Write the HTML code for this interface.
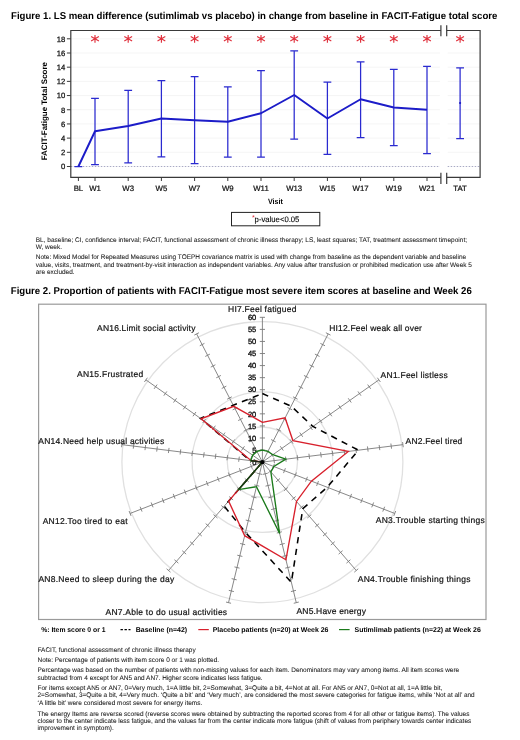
<!DOCTYPE html>
<html><head><meta charset="utf-8"><title>FACIT-Fatigue figures</title>
<style>
html,body{margin:0;padding:0;background:#fff;}
body{width:520px;height:740px;overflow:hidden;position:relative;font-family:"Liberation Sans", sans-serif;}
svg{position:absolute;left:0;top:0;will-change:transform;}
svg text{font-family:"Liberation Sans", sans-serif;text-rendering:geometricPrecision;}
</style></head><body>
<svg width="520" height="740" viewBox="0 0 520 740">

<text x="11.00" y="19.00" font-size="9.95" font-weight="bold" text-anchor="start" fill="#000" textLength="486.40" lengthAdjust="spacingAndGlyphs">Figure 1. LS mean difference (sutimlimab vs placebo) in change from baseline in FACIT-Fatigue total score</text>
<line x1="70.8" y1="152.31" x2="439.9" y2="152.31" stroke="#f3f3f3" stroke-width="0.8"/>
<line x1="447.7" y1="152.31" x2="480.1" y2="152.31" stroke="#f3f3f3" stroke-width="0.8"/>
<line x1="70.8" y1="138.12" x2="439.9" y2="138.12" stroke="#f3f3f3" stroke-width="0.8"/>
<line x1="447.7" y1="138.12" x2="480.1" y2="138.12" stroke="#f3f3f3" stroke-width="0.8"/>
<line x1="70.8" y1="123.94" x2="439.9" y2="123.94" stroke="#f3f3f3" stroke-width="0.8"/>
<line x1="447.7" y1="123.94" x2="480.1" y2="123.94" stroke="#f3f3f3" stroke-width="0.8"/>
<line x1="70.8" y1="109.75" x2="439.9" y2="109.75" stroke="#f3f3f3" stroke-width="0.8"/>
<line x1="447.7" y1="109.75" x2="480.1" y2="109.75" stroke="#f3f3f3" stroke-width="0.8"/>
<line x1="70.8" y1="95.56" x2="439.9" y2="95.56" stroke="#f3f3f3" stroke-width="0.8"/>
<line x1="447.7" y1="95.56" x2="480.1" y2="95.56" stroke="#f3f3f3" stroke-width="0.8"/>
<line x1="70.8" y1="81.37" x2="439.9" y2="81.37" stroke="#f3f3f3" stroke-width="0.8"/>
<line x1="447.7" y1="81.37" x2="480.1" y2="81.37" stroke="#f3f3f3" stroke-width="0.8"/>
<line x1="70.8" y1="67.18" x2="439.9" y2="67.18" stroke="#f3f3f3" stroke-width="0.8"/>
<line x1="447.7" y1="67.18" x2="480.1" y2="67.18" stroke="#f3f3f3" stroke-width="0.8"/>
<line x1="70.8" y1="53.00" x2="439.9" y2="53.00" stroke="#f3f3f3" stroke-width="0.8"/>
<line x1="447.7" y1="53.00" x2="480.1" y2="53.00" stroke="#f3f3f3" stroke-width="0.8"/>
<line x1="70.8" y1="38.81" x2="439.9" y2="38.81" stroke="#f3f3f3" stroke-width="0.8"/>
<line x1="447.7" y1="38.81" x2="480.1" y2="38.81" stroke="#f3f3f3" stroke-width="0.8"/>
<line x1="70.8" y1="166.50" x2="439.9" y2="166.50" stroke="#a9aac4" stroke-width="1" stroke-dasharray="1.5 1.5"/>
<line x1="447.7" y1="166.50" x2="480.1" y2="166.50" stroke="#a9aac4" stroke-width="1" stroke-dasharray="1.5 1.5"/>
<path d="M440.9,30.5 H70.8 V177.3 H440.9 M446.7,30.5 H480.1 V177.3 H446.7" fill="none" stroke="#3a3a3a" stroke-width="1.2"/>
<line x1="440.9" y1="25.2" x2="440.9" y2="36.2" stroke="#3a3a3a" stroke-width="1.2"/>
<line x1="440.9" y1="172.8" x2="440.9" y2="184.0" stroke="#3a3a3a" stroke-width="1.2"/>
<line x1="446.7" y1="25.2" x2="446.7" y2="36.2" stroke="#3a3a3a" stroke-width="1.2"/>
<line x1="446.7" y1="172.8" x2="446.7" y2="184.0" stroke="#3a3a3a" stroke-width="1.2"/>
<line x1="66.9" y1="166.50" x2="70.8" y2="166.50" stroke="#3a3a3a" stroke-width="1"/>
<text x="65.20" y="169.30" font-size="7.7" font-weight="normal" text-anchor="end" fill="#111" stroke="#111" stroke-width="0.25">0</text>
<line x1="66.9" y1="152.31" x2="70.8" y2="152.31" stroke="#3a3a3a" stroke-width="1"/>
<text x="65.20" y="155.11" font-size="7.7" font-weight="normal" text-anchor="end" fill="#111" stroke="#111" stroke-width="0.25">2</text>
<line x1="66.9" y1="138.12" x2="70.8" y2="138.12" stroke="#3a3a3a" stroke-width="1"/>
<text x="65.20" y="140.92" font-size="7.7" font-weight="normal" text-anchor="end" fill="#111" stroke="#111" stroke-width="0.25">4</text>
<line x1="66.9" y1="123.94" x2="70.8" y2="123.94" stroke="#3a3a3a" stroke-width="1"/>
<text x="65.20" y="126.74" font-size="7.7" font-weight="normal" text-anchor="end" fill="#111" stroke="#111" stroke-width="0.25">6</text>
<line x1="66.9" y1="109.75" x2="70.8" y2="109.75" stroke="#3a3a3a" stroke-width="1"/>
<text x="65.20" y="112.55" font-size="7.7" font-weight="normal" text-anchor="end" fill="#111" stroke="#111" stroke-width="0.25">8</text>
<line x1="66.9" y1="95.56" x2="70.8" y2="95.56" stroke="#3a3a3a" stroke-width="1"/>
<text x="65.20" y="98.36" font-size="7.7" font-weight="normal" text-anchor="end" fill="#111" stroke="#111" stroke-width="0.25">10</text>
<line x1="66.9" y1="81.37" x2="70.8" y2="81.37" stroke="#3a3a3a" stroke-width="1"/>
<text x="65.20" y="84.17" font-size="7.7" font-weight="normal" text-anchor="end" fill="#111" stroke="#111" stroke-width="0.25">12</text>
<line x1="66.9" y1="67.18" x2="70.8" y2="67.18" stroke="#3a3a3a" stroke-width="1"/>
<text x="65.20" y="69.98" font-size="7.7" font-weight="normal" text-anchor="end" fill="#111" stroke="#111" stroke-width="0.25">14</text>
<line x1="66.9" y1="53.00" x2="70.8" y2="53.00" stroke="#3a3a3a" stroke-width="1"/>
<text x="65.20" y="55.80" font-size="7.7" font-weight="normal" text-anchor="end" fill="#111" stroke="#111" stroke-width="0.25">16</text>
<line x1="66.9" y1="38.81" x2="70.8" y2="38.81" stroke="#3a3a3a" stroke-width="1"/>
<text x="65.20" y="41.61" font-size="7.7" font-weight="normal" text-anchor="end" fill="#111" stroke="#111" stroke-width="0.25">18</text>
<text transform="translate(47.4,111.2) rotate(-90)" font-size="7.95" font-weight="bold" text-anchor="middle" fill="#000">FACIT-Fatigue Total Score</text>
<line x1="78.40" y1="177.3" x2="78.40" y2="181.0" stroke="#3a3a3a" stroke-width="1"/>
<text x="78.40" y="191.30" font-size="7.8" font-weight="normal" text-anchor="middle" fill="#111" stroke="#111" stroke-width="0.22">BL</text>
<line x1="95.00" y1="177.3" x2="95.00" y2="181.0" stroke="#3a3a3a" stroke-width="1"/>
<text x="95.00" y="191.30" font-size="7.8" font-weight="normal" text-anchor="middle" fill="#111" stroke="#111" stroke-width="0.22">W1</text>
<line x1="128.20" y1="177.3" x2="128.20" y2="181.0" stroke="#3a3a3a" stroke-width="1"/>
<text x="128.20" y="191.30" font-size="7.8" font-weight="normal" text-anchor="middle" fill="#111" stroke="#111" stroke-width="0.22">W3</text>
<line x1="161.40" y1="177.3" x2="161.40" y2="181.0" stroke="#3a3a3a" stroke-width="1"/>
<text x="161.40" y="191.30" font-size="7.8" font-weight="normal" text-anchor="middle" fill="#111" stroke="#111" stroke-width="0.22">W5</text>
<line x1="194.60" y1="177.3" x2="194.60" y2="181.0" stroke="#3a3a3a" stroke-width="1"/>
<text x="194.60" y="191.30" font-size="7.8" font-weight="normal" text-anchor="middle" fill="#111" stroke="#111" stroke-width="0.22">W7</text>
<line x1="227.80" y1="177.3" x2="227.80" y2="181.0" stroke="#3a3a3a" stroke-width="1"/>
<text x="227.80" y="191.30" font-size="7.8" font-weight="normal" text-anchor="middle" fill="#111" stroke="#111" stroke-width="0.22">W9</text>
<line x1="261.00" y1="177.3" x2="261.00" y2="181.0" stroke="#3a3a3a" stroke-width="1"/>
<text x="261.00" y="191.30" font-size="7.8" font-weight="normal" text-anchor="middle" fill="#111" stroke="#111" stroke-width="0.22">W11</text>
<line x1="294.20" y1="177.3" x2="294.20" y2="181.0" stroke="#3a3a3a" stroke-width="1"/>
<text x="294.20" y="191.30" font-size="7.8" font-weight="normal" text-anchor="middle" fill="#111" stroke="#111" stroke-width="0.22">W13</text>
<line x1="327.40" y1="177.3" x2="327.40" y2="181.0" stroke="#3a3a3a" stroke-width="1"/>
<text x="327.40" y="191.30" font-size="7.8" font-weight="normal" text-anchor="middle" fill="#111" stroke="#111" stroke-width="0.22">W15</text>
<line x1="360.60" y1="177.3" x2="360.60" y2="181.0" stroke="#3a3a3a" stroke-width="1"/>
<text x="360.60" y="191.30" font-size="7.8" font-weight="normal" text-anchor="middle" fill="#111" stroke="#111" stroke-width="0.22">W17</text>
<line x1="393.80" y1="177.3" x2="393.80" y2="181.0" stroke="#3a3a3a" stroke-width="1"/>
<text x="393.80" y="191.30" font-size="7.8" font-weight="normal" text-anchor="middle" fill="#111" stroke="#111" stroke-width="0.22">W19</text>
<line x1="427.00" y1="177.3" x2="427.00" y2="181.0" stroke="#3a3a3a" stroke-width="1"/>
<text x="427.00" y="191.30" font-size="7.8" font-weight="normal" text-anchor="middle" fill="#111" stroke="#111" stroke-width="0.22">W21</text>
<line x1="460.10" y1="177.3" x2="460.10" y2="181.0" stroke="#3a3a3a" stroke-width="1"/>
<text x="460.10" y="191.30" font-size="7.8" font-weight="normal" text-anchor="middle" fill="#111" stroke="#111" stroke-width="0.22">TAT</text>
<text x="275.40" y="204.40" font-size="7.6" font-weight="bold" text-anchor="middle" fill="#000" textLength="14.90" lengthAdjust="spacingAndGlyphs">Visit</text>
<path d="M78.40,166.5 V166.5 M74.50,166.5 H82.30 M74.50,166.5 H82.30" stroke="#2a2ad0" stroke-width="1.25" fill="none"/>
<path d="M95.00,98.25 V164.5 M91.10,98.25 H98.90 M91.10,164.5 H98.90" stroke="#2a2ad0" stroke-width="1.25" fill="none"/>
<path d="M128.20,90.25 V162.75 M124.30,90.25 H132.10 M124.30,162.75 H132.10" stroke="#2a2ad0" stroke-width="1.25" fill="none"/>
<path d="M161.40,80.5 V156.75 M157.50,80.5 H165.30 M157.50,156.75 H165.30" stroke="#2a2ad0" stroke-width="1.25" fill="none"/>
<path d="M194.60,76.6 V163.6 M190.70,76.6 H198.50 M190.70,163.6 H198.50" stroke="#2a2ad0" stroke-width="1.25" fill="none"/>
<path d="M227.80,86.75 V157 M223.90,86.75 H231.70 M223.90,157 H231.70" stroke="#2a2ad0" stroke-width="1.25" fill="none"/>
<path d="M261.00,70.5 V157 M257.10,70.5 H264.90 M257.10,157 H264.90" stroke="#2a2ad0" stroke-width="1.25" fill="none"/>
<path d="M294.20,50.75 V139 M290.30,50.75 H298.10 M290.30,139 H298.10" stroke="#2a2ad0" stroke-width="1.25" fill="none"/>
<path d="M327.40,82 V154.25 M323.50,82 H331.30 M323.50,154.25 H331.30" stroke="#2a2ad0" stroke-width="1.25" fill="none"/>
<path d="M360.60,61.75 V137.5 M356.70,61.75 H364.50 M356.70,137.5 H364.50" stroke="#2a2ad0" stroke-width="1.25" fill="none"/>
<path d="M393.80,69.25 V145.5 M389.90,69.25 H397.70 M389.90,145.5 H397.70" stroke="#2a2ad0" stroke-width="1.25" fill="none"/>
<path d="M427.00,66.25 V153.5 M423.10,66.25 H430.90 M423.10,153.5 H430.90" stroke="#2a2ad0" stroke-width="1.25" fill="none"/>
<path d="M460.10,67.9 V138.5 M456.20,67.9 H464.00 M456.20,138.5 H464.00" stroke="#2a2ad0" stroke-width="1.25" fill="none"/>
<polyline points="78.40,166.5 95.00,131.25 128.20,126 161.40,118.5 194.60,120.25 227.80,121.75 261.00,113.25 294.20,95 327.40,118.5 360.60,99.25 393.80,107.5 427.00,109.75" fill="none" stroke="#1c1cc8" stroke-width="1.95" stroke-linejoin="round"/>
<circle cx="460.1" cy="103" r="1.1" fill="#1c1cc4"/>
<path d="M95.0,34.9 V42.699999999999996 M91.1,36.599999999999994 L98.9,41.0 M91.1,41.0 L98.9,36.599999999999994" stroke="#e0303c" stroke-width="1.15" fill="none"/>
<path d="M128.2,34.9 V42.699999999999996 M124.29999999999998,36.599999999999994 L132.1,41.0 M124.29999999999998,41.0 L132.1,36.599999999999994" stroke="#e0303c" stroke-width="1.15" fill="none"/>
<path d="M161.4,34.9 V42.699999999999996 M157.5,36.599999999999994 L165.3,41.0 M157.5,41.0 L165.3,36.599999999999994" stroke="#e0303c" stroke-width="1.15" fill="none"/>
<path d="M194.6,34.9 V42.699999999999996 M190.7,36.599999999999994 L198.5,41.0 M190.7,41.0 L198.5,36.599999999999994" stroke="#e0303c" stroke-width="1.15" fill="none"/>
<path d="M227.8,34.9 V42.699999999999996 M223.9,36.599999999999994 L231.70000000000002,41.0 M223.9,41.0 L231.70000000000002,36.599999999999994" stroke="#e0303c" stroke-width="1.15" fill="none"/>
<path d="M261.0,34.9 V42.699999999999996 M257.1,36.599999999999994 L264.9,41.0 M257.1,41.0 L264.9,36.599999999999994" stroke="#e0303c" stroke-width="1.15" fill="none"/>
<path d="M294.2,34.9 V42.699999999999996 M290.3,36.599999999999994 L298.09999999999997,41.0 M290.3,41.0 L298.09999999999997,36.599999999999994" stroke="#e0303c" stroke-width="1.15" fill="none"/>
<path d="M327.4,34.9 V42.699999999999996 M323.5,36.599999999999994 L331.29999999999995,41.0 M323.5,41.0 L331.29999999999995,36.599999999999994" stroke="#e0303c" stroke-width="1.15" fill="none"/>
<path d="M360.6,34.9 V42.699999999999996 M356.70000000000005,36.599999999999994 L364.5,41.0 M356.70000000000005,41.0 L364.5,36.599999999999994" stroke="#e0303c" stroke-width="1.15" fill="none"/>
<path d="M393.8,34.9 V42.699999999999996 M389.90000000000003,36.599999999999994 L397.7,41.0 M389.90000000000003,41.0 L397.7,36.599999999999994" stroke="#e0303c" stroke-width="1.15" fill="none"/>
<path d="M427.0,34.9 V42.699999999999996 M423.1,36.599999999999994 L430.9,41.0 M423.1,41.0 L430.9,36.599999999999994" stroke="#e0303c" stroke-width="1.15" fill="none"/>
<path d="M460.1,34.9 V42.699999999999996 M456.20000000000005,36.599999999999994 L464.0,41.0 M456.20000000000005,41.0 L464.0,36.599999999999994" stroke="#e0303c" stroke-width="1.15" fill="none"/>
<rect x="231.5" y="212.4" width="88.3" height="13.4" fill="#fff" stroke="#222" stroke-width="1"/>
<text x="251.9" y="220.2" font-size="7.2" fill="#e0303c">*</text>
<text x="254.60" y="221.70" font-size="7.9" font-weight="normal" text-anchor="start" fill="#000" textLength="44.80" lengthAdjust="spacingAndGlyphs" stroke="#000" stroke-width="0.1">p-value&lt;0.05</text>
<text x="35.75" y="241.75" font-size="6.65" font-weight="normal" text-anchor="start" fill="#1a1a1a" textLength="431.25" lengthAdjust="spacingAndGlyphs" stroke="#1a1a1a" stroke-width="0.06">BL, baseline; CI, confidence interval; FACIT, functional assessment of chronic illness therapy; LS, least squares; TAT, treatment assessment timepoint;</text>
<text x="35.75" y="249.25" font-size="6.65" font-weight="normal" text-anchor="start" fill="#1a1a1a" textLength="26.25" lengthAdjust="spacingAndGlyphs" stroke="#1a1a1a" stroke-width="0.06">W, week.</text>
<text x="35.75" y="259.00" font-size="6.65" font-weight="normal" text-anchor="start" fill="#1a1a1a" textLength="430.35" lengthAdjust="spacingAndGlyphs" stroke="#1a1a1a" stroke-width="0.06">Note: Mixed Model for Repeated Measures using TOEPH covariance matrix is used with change from baseline as the dependent variable and baseline</text>
<text x="35.75" y="266.75" font-size="6.65" font-weight="normal" text-anchor="start" fill="#1a1a1a" textLength="436.15" lengthAdjust="spacingAndGlyphs" stroke="#1a1a1a" stroke-width="0.06">value, visits, treatment, and treatment-by-visit interaction as independent variables. Any value after transfusion or prohibited medication use after Week 5</text>
<text x="35.75" y="274.25" font-size="6.65" font-weight="normal" text-anchor="start" fill="#1a1a1a" textLength="38.84" lengthAdjust="spacingAndGlyphs" stroke="#1a1a1a" stroke-width="0.06">are excluded.</text>
<text x="10.75" y="294.00" font-size="9.9" font-weight="bold" text-anchor="start" fill="#000" textLength="461.00" lengthAdjust="spacingAndGlyphs">Figure 2. Proportion of patients with FACIT-Fatigue most severe item scores at baseline and Week 26</text>
<rect x="38.6" y="304.2" width="447.4" height="315.3" fill="none" stroke="#9a9a9a" stroke-width="1.2"/>
<circle cx="262.4" cy="462.1" r="35.1" fill="none" stroke="#e0e0e0" stroke-width="1.3"/>
<circle cx="262.4" cy="462.1" r="70.3" fill="none" stroke="#e0e0e0" stroke-width="1.3"/>
<circle cx="262.4" cy="462.1" r="140.5" fill="none" stroke="#e0e0e0" stroke-width="1.3"/>
<line x1="262.4" y1="462.1" x2="262.40" y2="317.32" stroke="#7a7a7a" stroke-width="0.9"/>
<path d="M259.80,450.04 L265.00,450.04 M259.80,437.97 L265.00,437.97 M259.80,425.91 L265.00,425.91 M259.80,413.84 L265.00,413.84 M259.80,401.78 L265.00,401.78 M259.80,389.71 L265.00,389.71 M259.80,377.65 L265.00,377.65 M259.80,365.58 L265.00,365.58 M259.80,353.52 L265.00,353.52 M259.80,341.45 L265.00,341.45 M259.80,329.38 L265.00,329.38 M259.80,317.32 L265.00,317.32" stroke="#7a7a7a" stroke-width="0.9" fill="none"/>
<line x1="262.4" y1="462.1" x2="328.18" y2="333.90" stroke="#7a7a7a" stroke-width="0.9"/>
<path d="M265.57,450.23 L270.19,452.60 M271.05,439.55 L275.68,441.92 M276.53,428.86 L281.16,431.24 M282.01,418.18 L286.64,420.55 M287.49,407.50 L292.12,409.87 M292.98,396.81 L297.60,399.19 M298.46,386.13 L303.08,388.51 M303.94,375.45 L308.56,377.82 M309.42,364.77 L314.05,367.14 M314.90,354.08 L319.53,356.46 M320.38,343.40 L325.01,345.77 M325.86,332.72 L330.49,335.09" stroke="#7a7a7a" stroke-width="0.9" fill="none"/>
<line x1="262.4" y1="462.1" x2="378.89" y2="379.86" stroke="#7a7a7a" stroke-width="0.9"/>
<path d="M270.61,453.12 L273.61,457.37 M280.31,446.27 L283.31,450.52 M290.02,439.41 L293.02,443.66 M299.73,432.56 L302.73,436.81 M309.44,425.71 L312.44,429.96 M319.14,418.85 L322.14,423.10 M328.85,412.00 L331.85,416.25 M338.56,405.15 L341.56,409.39 M348.26,398.29 L351.26,402.54 M357.97,391.44 L360.97,395.69 M367.68,384.59 L370.68,388.83 M377.39,377.73 L380.38,381.98" stroke="#7a7a7a" stroke-width="0.9" fill="none"/>
<line x1="262.4" y1="462.1" x2="402.91" y2="444.65" stroke="#7a7a7a" stroke-width="0.9"/>
<path d="M273.79,458.07 L274.43,463.23 M285.50,456.61 L286.14,461.77 M297.21,455.16 L297.85,460.32 M308.92,453.70 L309.56,458.86 M320.62,452.25 L321.27,457.41 M332.33,450.79 L332.97,455.95 M344.04,449.34 L344.68,454.50 M355.75,447.89 L356.39,453.05 M367.46,446.43 L368.10,451.59 M379.17,444.98 L379.81,450.14 M390.88,443.52 L391.52,448.68 M402.59,442.07 L403.23,447.23" stroke="#7a7a7a" stroke-width="0.9" fill="none"/>
<line x1="262.4" y1="462.1" x2="394.74" y2="513.44" stroke="#7a7a7a" stroke-width="0.9"/>
<path d="M274.37,463.95 L272.49,468.80 M285.40,468.23 L283.52,473.08 M296.43,472.51 L294.55,477.36 M307.45,476.79 L305.57,481.64 M318.48,481.07 L316.60,485.92 M329.51,485.35 L327.63,490.19 M340.54,489.62 L338.66,494.47 M351.57,493.90 L349.69,498.75 M362.60,498.18 L360.72,503.03 M373.63,502.46 L371.74,507.31 M384.65,506.74 L382.77,511.59 M395.68,511.02 L393.80,515.86" stroke="#7a7a7a" stroke-width="0.9" fill="none"/>
<line x1="262.4" y1="462.1" x2="356.26" y2="570.47" stroke="#7a7a7a" stroke-width="0.9"/>
<path d="M272.19,469.43 L268.26,472.83 M280.01,478.46 L276.08,481.86 M287.83,487.49 L283.90,490.89 M295.65,496.52 L291.72,499.93 M303.47,505.55 L299.54,508.96 M311.29,514.58 L307.36,517.99 M319.12,523.61 L315.19,527.02 M326.94,532.64 L323.01,536.05 M334.76,541.67 L330.83,545.08 M342.58,550.71 L338.65,554.11 M350.40,559.74 L346.47,563.14 M358.22,568.77 L354.29,572.17" stroke="#7a7a7a" stroke-width="0.9" fill="none"/>
<line x1="262.4" y1="462.1" x2="296.27" y2="602.67" stroke="#7a7a7a" stroke-width="0.9"/>
<path d="M267.75,473.21 L262.70,474.42 M270.57,484.92 L265.52,486.14 M273.40,496.63 L268.34,497.85 M276.22,508.35 L271.16,509.57 M279.04,520.06 L273.99,521.28 M281.86,531.78 L276.81,533.00 M284.69,543.49 L279.63,544.71 M287.51,555.21 L282.45,556.42 M290.33,566.92 L285.28,568.14 M293.15,578.64 L288.10,579.85 M295.98,590.35 L290.92,591.57 M298.80,602.06 L293.75,603.28" stroke="#7a7a7a" stroke-width="0.9" fill="none"/>
<line x1="262.4" y1="462.1" x2="228.53" y2="602.67" stroke="#7a7a7a" stroke-width="0.9"/>
<path d="M262.10,474.42 L257.05,473.21 M259.28,486.14 L254.23,484.92 M256.46,497.85 L251.40,496.63 M253.64,509.57 L248.58,508.35 M250.81,521.28 L245.76,520.06 M247.99,533.00 L242.94,531.78 M245.17,544.71 L240.11,543.49 M242.35,556.42 L237.29,555.21 M239.52,568.14 L234.47,566.92 M236.70,579.85 L231.65,578.64 M233.88,591.57 L228.82,590.35 M231.05,603.28 L226.00,602.06" stroke="#7a7a7a" stroke-width="0.9" fill="none"/>
<line x1="262.4" y1="462.1" x2="168.54" y2="570.47" stroke="#7a7a7a" stroke-width="0.9"/>
<path d="M256.54,472.83 L252.61,469.43 M248.72,481.86 L244.79,478.46 M240.90,490.89 L236.97,487.49 M233.08,499.93 L229.15,496.52 M225.26,508.96 L221.33,505.55 M217.44,517.99 L213.51,514.58 M209.61,527.02 L205.68,523.61 M201.79,536.05 L197.86,532.64 M193.97,545.08 L190.04,541.67 M186.15,554.11 L182.22,550.71 M178.33,563.14 L174.40,559.74 M170.51,572.17 L166.58,568.77" stroke="#7a7a7a" stroke-width="0.9" fill="none"/>
<line x1="262.4" y1="462.1" x2="130.06" y2="513.44" stroke="#7a7a7a" stroke-width="0.9"/>
<path d="M252.31,468.80 L250.43,463.95 M241.28,473.08 L239.40,468.23 M230.25,477.36 L228.37,472.51 M219.23,481.64 L217.35,476.79 M208.20,485.92 L206.32,481.07 M197.17,490.19 L195.29,485.35 M186.14,494.47 L184.26,489.62 M175.11,498.75 L173.23,493.90 M164.08,503.03 L162.20,498.18 M153.06,507.31 L151.17,502.46 M142.03,511.59 L140.15,506.74 M131.00,515.86 L129.12,511.02" stroke="#7a7a7a" stroke-width="0.9" fill="none"/>
<line x1="262.4" y1="462.1" x2="121.89" y2="444.65" stroke="#7a7a7a" stroke-width="0.9"/>
<path d="M250.37,463.23 L251.01,458.07 M238.66,461.77 L239.30,456.61 M226.95,460.32 L227.59,455.16 M215.24,458.86 L215.88,453.70 M203.53,457.41 L204.18,452.25 M191.83,455.95 L192.47,450.79 M180.12,454.50 L180.76,449.34 M168.41,453.05 L169.05,447.89 M156.70,451.59 L157.34,446.43 M144.99,450.14 L145.63,444.98 M133.28,448.68 L133.92,443.52 M121.57,447.23 L122.21,442.07" stroke="#7a7a7a" stroke-width="0.9" fill="none"/>
<line x1="262.4" y1="462.1" x2="145.91" y2="379.86" stroke="#7a7a7a" stroke-width="0.9"/>
<path d="M251.19,457.37 L254.19,453.12 M241.49,450.52 L244.49,446.27 M231.78,443.66 L234.78,439.41 M222.07,436.81 L225.07,432.56 M212.36,429.96 L215.36,425.71 M202.66,423.10 L205.66,418.85 M192.95,416.25 L195.95,412.00 M183.24,409.39 L186.24,405.15 M173.54,402.54 L176.54,398.29 M163.83,395.69 L166.83,391.44 M154.12,388.83 L157.12,384.59 M144.42,381.98 L147.41,377.73" stroke="#7a7a7a" stroke-width="0.9" fill="none"/>
<line x1="262.4" y1="462.1" x2="196.62" y2="333.90" stroke="#7a7a7a" stroke-width="0.9"/>
<path d="M254.61,452.60 L259.23,450.23 M249.12,441.92 L253.75,439.55 M243.64,431.24 L248.27,428.86 M238.16,420.55 L242.79,418.18 M232.68,409.87 L237.31,407.50 M227.20,399.19 L231.82,396.81 M221.72,388.51 L226.34,386.13 M216.24,377.82 L220.86,375.45 M210.75,367.14 L215.38,364.77 M205.27,356.46 L209.90,354.08 M199.79,345.77 L204.42,343.40 M194.31,335.09 L198.94,332.72" stroke="#7a7a7a" stroke-width="0.9" fill="none"/>
<text x="256.30" y="464.80" font-size="7.5" font-weight="normal" text-anchor="end" fill="#111" stroke="#111" stroke-width="0.35">0</text>
<text x="256.30" y="452.74" font-size="7.5" font-weight="normal" text-anchor="end" fill="#111" stroke="#111" stroke-width="0.35">5</text>
<text x="256.30" y="440.67" font-size="7.5" font-weight="normal" text-anchor="end" fill="#111" stroke="#111" stroke-width="0.35">10</text>
<text x="256.30" y="428.61" font-size="7.5" font-weight="normal" text-anchor="end" fill="#111" stroke="#111" stroke-width="0.35">15</text>
<text x="256.30" y="416.54" font-size="7.5" font-weight="normal" text-anchor="end" fill="#111" stroke="#111" stroke-width="0.35">20</text>
<text x="256.30" y="404.48" font-size="7.5" font-weight="normal" text-anchor="end" fill="#111" stroke="#111" stroke-width="0.35">25</text>
<text x="256.30" y="392.41" font-size="7.5" font-weight="normal" text-anchor="end" fill="#111" stroke="#111" stroke-width="0.35">30</text>
<text x="256.30" y="380.35" font-size="7.5" font-weight="normal" text-anchor="end" fill="#111" stroke="#111" stroke-width="0.35">35</text>
<text x="256.30" y="368.28" font-size="7.5" font-weight="normal" text-anchor="end" fill="#111" stroke="#111" stroke-width="0.35">40</text>
<text x="256.30" y="356.22" font-size="7.5" font-weight="normal" text-anchor="end" fill="#111" stroke="#111" stroke-width="0.35">45</text>
<text x="256.30" y="344.15" font-size="7.5" font-weight="normal" text-anchor="end" fill="#111" stroke="#111" stroke-width="0.35">50</text>
<text x="256.30" y="332.08" font-size="7.5" font-weight="normal" text-anchor="end" fill="#111" stroke="#111" stroke-width="0.35">55</text>
<text x="256.30" y="320.02" font-size="7.5" font-weight="normal" text-anchor="end" fill="#111" stroke="#111" stroke-width="0.35">60</text>
<polygon points="262.40,393.57 291.12,406.12 312.88,426.46 358.41,450.17 327.25,487.26 302.76,508.70 291.36,582.29 245.46,532.39 224.23,506.17 262.40,462.10 250.22,460.59 200.47,418.37 233.24,405.27" fill="none" stroke="#000" stroke-width="1.55" stroke-dasharray="6.3 5.4"/>
<polygon points="262.40,422.29 285.09,417.87 292.88,440.58 348.34,451.43 311.37,481.10 296.50,501.47 285.94,559.80 244.67,535.67 228.61,501.11 262.40,462.10 251.16,460.70 201.05,418.78 233.79,406.33" fill="none" stroke="#d8202c" stroke-width="1.35" stroke-linejoin="miter"/>
<polygon points="262.40,450.04 267.88,451.42 272.88,454.70 285.82,459.19 273.87,466.55 270.85,471.85 279.62,533.56 256.47,486.70 238.62,489.55 262.40,462.10 250.69,460.65 252.69,455.25 256.92,451.42" fill="none" stroke="#1b7a1b" stroke-width="1.35"/>
<line x1="250.93" y1="460.67" x2="262.4" y2="462.1" stroke="#1c241c" stroke-width="1.3"/>
<line x1="262.4" y1="462.1" x2="238.62" y2="489.55" stroke="#163a16" stroke-width="1.4"/>
<circle cx="262.4" cy="462.1" r="2.2" fill="#000"/>
<text x="228.10" y="312.10" font-size="8.5" fill="#111" stroke="#111" stroke-width="0.2" textLength="68.30" lengthAdjust="spacing">HI7.Feel fatigued</text>
<text x="329.20" y="331.00" font-size="8.5" fill="#111" stroke="#111" stroke-width="0.2" textLength="92.70" lengthAdjust="spacing">HI12.Feel weak all over</text>
<text x="380.60" y="378.00" font-size="8.5" fill="#111" stroke="#111" stroke-width="0.2" textLength="67.10" lengthAdjust="spacing">AN1.Feel listless</text>
<text x="405.60" y="444.20" font-size="8.5" fill="#111" stroke="#111" stroke-width="0.2" textLength="56.70" lengthAdjust="spacing">AN2.Feel tired</text>
<text x="375.85" y="523.00" font-size="8.5" fill="#111" stroke="#111" stroke-width="0.2" textLength="108.80" lengthAdjust="spacing">AN3.Trouble starting things</text>
<text x="357.80" y="581.70" font-size="8.5" fill="#111" stroke="#111" stroke-width="0.2" textLength="112.60" lengthAdjust="spacing">AN4.Trouble finishing things</text>
<text x="296.50" y="614.20" font-size="8.5" fill="#111" stroke="#111" stroke-width="0.2" textLength="69.50" lengthAdjust="spacing">AN5.Have energy</text>
<text x="105.50" y="614.90" font-size="8.5" fill="#111" stroke="#111" stroke-width="0.2" textLength="121.60" lengthAdjust="spacing">AN7.Able to do usual activities</text>
<text x="38.40" y="581.70" font-size="8.5" fill="#111" stroke="#111" stroke-width="0.2" textLength="135.80" lengthAdjust="spacing">AN8.Need to sleep during the day</text>
<text x="42.70" y="523.50" font-size="8.5" fill="#111" stroke="#111" stroke-width="0.2" textLength="84.80" lengthAdjust="spacing">AN12.Too tired to eat</text>
<text x="38.30" y="444.00" font-size="8.5" fill="#111" stroke="#111" stroke-width="0.2" textLength="126.00" lengthAdjust="spacing">AN14.Need help usual activities</text>
<text x="77.00" y="376.80" font-size="8.5" fill="#111" stroke="#111" stroke-width="0.2" textLength="66.20" lengthAdjust="spacing">AN15.Frustrated</text>
<text x="97.10" y="330.80" font-size="8.5" fill="#111" stroke="#111" stroke-width="0.2" textLength="98.30" lengthAdjust="spacing">AN16.Limit social activity</text>
<text x="41.25" y="632.00" font-size="6.95" font-weight="bold" text-anchor="start" fill="#000" textLength="64.25" lengthAdjust="spacingAndGlyphs">%: Item score 0 or 1</text>
<line x1="120.5" y1="629.6" x2="130.5" y2="629.6" stroke="#000" stroke-width="1.3" stroke-dasharray="2.4 1.6"/>
<text x="135.80" y="632.00" font-size="6.95" font-weight="bold" text-anchor="start" fill="#000" textLength="51.30" lengthAdjust="spacingAndGlyphs">Baseline (n=42)</text>
<line x1="198.3" y1="629.6" x2="208.8" y2="629.6" stroke="#d8202c" stroke-width="1.2"/>
<text x="212.70" y="632.00" font-size="6.95" font-weight="bold" text-anchor="start" fill="#000" textLength="115.80" lengthAdjust="spacingAndGlyphs">Placebo patients (n=20) at Week 26</text>
<line x1="339" y1="629.6" x2="349.6" y2="629.6" stroke="#1b7a1b" stroke-width="1.2"/>
<text x="354.50" y="632.00" font-size="6.95" font-weight="bold" text-anchor="start" fill="#000" textLength="126.30" lengthAdjust="spacingAndGlyphs">Sutimlimab patients (n=22) at Week 26</text>
<text x="37.50" y="652.00" font-size="6.65" font-weight="normal" text-anchor="start" fill="#1a1a1a" textLength="158.20" lengthAdjust="spacingAndGlyphs" stroke="#1a1a1a" stroke-width="0.06">FACIT, functional assessment of chronic illness therapy</text>
<text x="37.50" y="661.75" font-size="6.65" font-weight="normal" text-anchor="start" fill="#1a1a1a" textLength="181.59" lengthAdjust="spacingAndGlyphs" stroke="#1a1a1a" stroke-width="0.06">Note: Percentage of patients with item score 0 or 1 was plotted.</text>
<text x="37.50" y="672.00" font-size="6.65" font-weight="normal" text-anchor="start" fill="#1a1a1a" textLength="421.70" lengthAdjust="spacingAndGlyphs" stroke="#1a1a1a" stroke-width="0.06">Percentage was based on the number of patients with non-missing values for each item. Denominators may vary among items. All item scores were</text>
<text x="37.50" y="680.00" font-size="6.65" font-weight="normal" text-anchor="start" fill="#1a1a1a" textLength="225.09" lengthAdjust="spacingAndGlyphs" stroke="#1a1a1a" stroke-width="0.06">subtracted from 4 except for AN5 and AN7. Higher score indicates less fatigue.</text>
<text x="37.50" y="690.00" font-size="6.65" font-weight="normal" text-anchor="start" fill="#1a1a1a" textLength="404.90" lengthAdjust="spacingAndGlyphs" stroke="#1a1a1a" stroke-width="0.06">For items except AN5 or AN7, 0=Very much, 1=A little bit, 2=Somewhat, 3=Quite a bit, 4=Not at all. For AN5 or AN7, 0=Not at all, 1=A little bit,</text>
<text x="37.50" y="697.00" font-size="6.65" font-weight="normal" text-anchor="start" fill="#1a1a1a" textLength="437.20" lengthAdjust="spacingAndGlyphs" stroke="#1a1a1a" stroke-width="0.06">2=Somewhat, 3=Quite a bit, 4=Very much. &#8216;Quite a bit&#8217; and &#8216;Very much&#8217;, are considered the most severe categories for fatigue items, while &#8216;Not at all&#8217; and</text>
<text x="37.50" y="704.50" font-size="6.65" font-weight="normal" text-anchor="start" fill="#1a1a1a" textLength="164.80" lengthAdjust="spacingAndGlyphs" stroke="#1a1a1a" stroke-width="0.06">&#8216;A little bit&#8217; were considered most severe for energy items.</text>
<text x="37.50" y="715.75" font-size="6.65" font-weight="normal" text-anchor="start" fill="#1a1a1a" textLength="431.90" lengthAdjust="spacingAndGlyphs" stroke="#1a1a1a" stroke-width="0.06">The energy Items are reverse scored (reverse scores were obtained by subtracting the reported scores from 4 for all other or fatigue items). The values</text>
<text x="37.50" y="723.00" font-size="6.65" font-weight="normal" text-anchor="start" fill="#1a1a1a" textLength="433.70" lengthAdjust="spacingAndGlyphs" stroke="#1a1a1a" stroke-width="0.06">closer to the center indicate less fatigue, and the values far from the center indicate more fatigue (shift of values from periphery towards center indicates</text>
<text x="37.50" y="730.00" font-size="6.65" font-weight="normal" text-anchor="start" fill="#1a1a1a" textLength="76.22" lengthAdjust="spacingAndGlyphs" stroke="#1a1a1a" stroke-width="0.06">improvement in symptom).</text>
</svg>
</body></html>
